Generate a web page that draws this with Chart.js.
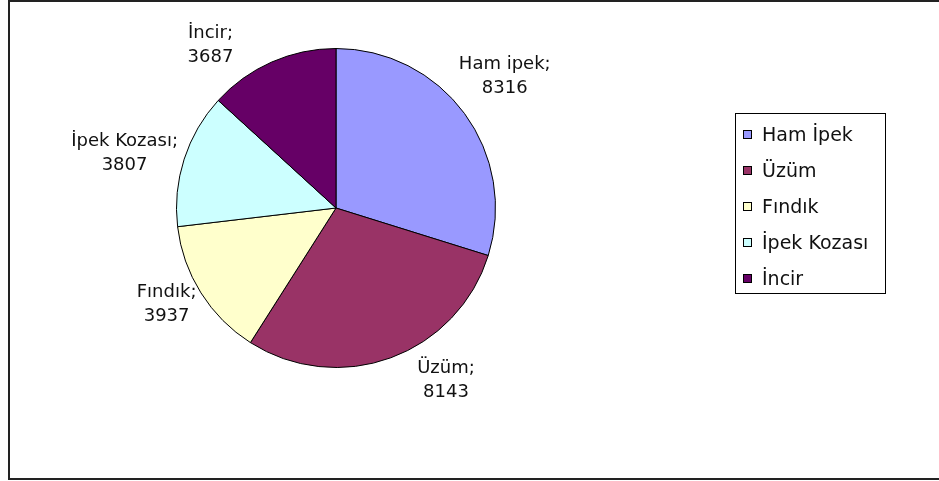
<!DOCTYPE html>
<html>
<head>
<meta charset="utf-8">
<script src="https://cdn.jsdelivr.net/npm/chart.js@4/dist/chart.umd.min.js"></script>
<style>
  html, body { margin: 0; padding: 0; background: #fff; }
  #wrap { width: 939px; height: 481px; }
</style>
</head>
<body>
<div id="wrap"><canvas id="myChart" width="939" height="481"></canvas></div>
<script>
// dati
const categories = ['Ham İpek', 'Üzüm', 'Fındık', 'İpek Kozası', 'İncir'];
const sliceNames = ['Ham ipek', 'Üzüm', 'Fındık', 'İpek Kozası', 'İncir'];
const values = [8316, 8143, 3937, 3807, 3687];
const colors = ['#9999FF', '#993366', '#FFFFCC', '#CCFFFF', '#660066'];

const FONT = '18px "DejaVu Sans", sans-serif';
const LEGEND_FONT = '19px "DejaVu Sans", sans-serif';

// cornice esterna
const framePlugin = {
  id: 'frame',
  beforeDraw(chart) {
    const c = chart.ctx;
    c.save();
    c.fillStyle = '#fff';
    c.fillRect(0, 0, chart.width, chart.height);
    c.strokeStyle = '#222';
    c.lineWidth = 2;
    c.beginPath();
    c.moveTo(chart.width, 1);
    c.lineTo(9, 1);
    c.lineTo(9, 479);
    c.lineTo(chart.width, 479);
    c.stroke();
    c.restore();
  }
};

// etichette "nome; valore" attorno alla torta
const sliceLabels = {
  id: 'sliceLabels',
  afterDatasetsDraw(chart, args, opts) {
    const c = chart.ctx;
    const meta = chart.getDatasetMeta(0);
    c.save();
    c.font = FONT;
    c.fillStyle = '#111';
    c.textAlign = 'center';
    c.textBaseline = 'middle';
    meta.data.forEach((arc, i) => {
      const mid = (arc.startAngle + arc.endAngle) / 2;
      const r = arc.outerRadius + opts.gap;
      const n = opts.nudge[i] || [0, 0];
      const x = arc.x + Math.cos(mid) * r + n[0];
      const y = arc.y + Math.sin(mid) * r + n[1];
      c.fillText(sliceNames[i] + ';', x, y - 12);
      c.fillText(String(values[i]), x, y + 12);
    });
    c.restore();
  }
};

// legenda con riquadro
const boxLegend = {
  id: 'boxLegend',
  afterDraw(chart, args, opts) {
    const c = chart.ctx;
    const ds = chart.data.datasets[0];
    c.save();
    c.strokeStyle = '#000';
    c.lineWidth = 1;
    c.strokeRect(opts.left + 0.5, opts.top + 0.5, opts.width, opts.height);
    c.font = LEGEND_FONT;
    c.textBaseline = 'middle';
    c.textAlign = 'left';
    chart.data.labels.forEach((lab, i) => {
      const y = opts.top + 22 + i * opts.step;
      c.fillStyle = ds.backgroundColor[i];
      c.fillRect(opts.left + 8.5, y - 4.5, 8, 8);
      c.strokeRect(opts.left + 8.5, y - 4.5, 8, 8);
      c.fillStyle = '#111';
      c.fillText(lab, opts.left + 27, y + 1);
    });
    c.restore();
  }
};

const ctx = document.getElementById('myChart').getContext('2d');
const chart = new Chart(ctx, {
  type: 'pie',
  data: {
    labels: categories,
    datasets: [{
      data: values,
      backgroundColor: colors,
      borderColor: '#000',
      borderWidth: 1
    }]
  },
  options: {
    responsive: false,
    animation: false,
    layout: { padding: { left: 176, right: 443, top: 48, bottom: 113 } },
    plugins: {
      legend: { display: false },
      tooltip: { enabled: false },
      sliceLabels: {
        gap: 50,
        nudge: [[0, -8], [38, -24], [8, -15], [-12, 10], [-41, 29]]
      },
      boxLegend: { left: 735, top: 113, width: 150, height: 180, step: 36 }
    }
  },
  plugins: [framePlugin, sliceLabels, boxLegend]
});
</script>
</body>
</html>
